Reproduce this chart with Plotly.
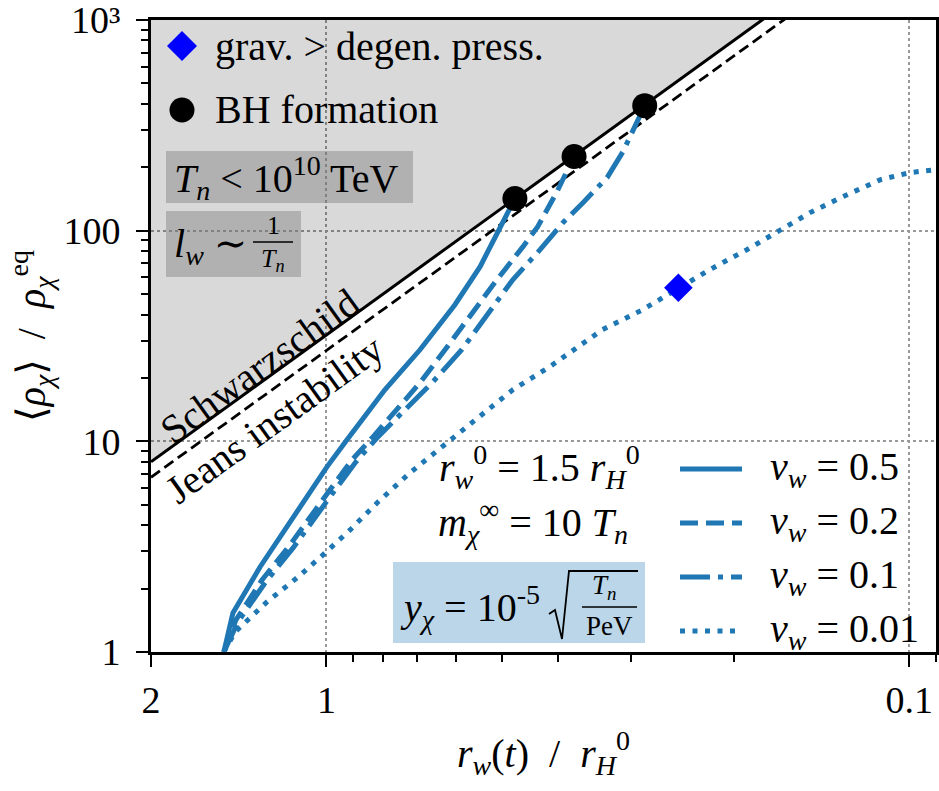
import plotly.graph_objects as go

# ---------------- data ----------------
r_v05 = [1.5, 1.447, 1.300, 1.169, 0.998, 0.922, 0.794, 0.691, 0.602, 0.545, 0.510, 0.484, 0.475]
rho_v05 = [1.0, 1.532, 2.533, 3.924, 7.566, 10.17, 17.57, 27.2, 44.5, 67.5, 95.7, 125.9, 142]

r_v02 = [1.5, 1.430, 1.290, 1.155, 0.986, 0.904, 0.832, 0.691, 0.626, 0.510, 0.460, 0.434, 0.403, 0.385, 0.376]
rho_v02 = [1.0, 1.419, 2.198, 3.223, 5.885, 8.17, 10.5, 18.97, 27.2, 58.5, 84.0, 104.5, 151.5, 195, 225]

r_v01 = [1.5, 1.419, 1.275, 1.141, 0.975, 0.890, 0.816, 0.659, 0.586, 0.479, 0.430, 0.393, 0.363, 0.330, 0.310, 0.293, 0.2844]
rho_v01 = [1.0, 1.388, 2.127, 3.119, 5.69, 7.99, 10.5, 18.97, 27.2, 58.5, 81.2, 109.1, 135.8, 178.6, 237, 326, 392]

r_v001 = [1.5, 1.435, 1.265, 1.124, 1.014, 0.911, 0.819, 0.719, 0.583, 0.479, 0.414, 0.398, 0.336,
          0.287, 0.249, 0.220, 0.190, 0.169, 0.148, 0.130, 0.112, 0.0998, 0.090]
rho_v001 = [1.0, 1.245, 1.728, 2.247, 2.889, 3.798, 5.10, 7.09, 11.34, 17.57, 22.6, 24.4, 33.9,
            42.1, 53.6, 65.3, 81.2, 98.9, 121.8, 145, 174.7, 188.6, 195]

bh_r = [0.475, 0.376, 0.2844]
bh_rho = [142, 225, 392]

grav_r = [0.249]
grav_rho = [53.6]

schw_r = [2.0, 0.1]
schw_rho = [8.0, 3200.0]
jeans_r = [2.0, 0.1]
jeans_rho = [6.75, 2700.0]

x_tickvals = [2, 1, 0.1]
x_ticktext = ["2", "1", "0.1"]
x_minor = [0.9, 0.8, 0.7, 0.6, 0.5, 0.4, 0.3, 0.2, 0.09]
y_tickvals = [1, 10, 100, 1000]
y_ticktext = ["1", "10", "100", "10³"]
y_minor = [m * d for d in (1, 10, 100) for m in range(2, 10)]

series_labels = ["0.5", "0.2", "0.1", "0.01"]

# ---------------- styling ----------------
FONT = "'Liberation Serif', 'Times New Roman', 'DejaVu Serif', serif"
FS = 38      # tick labels
FA = 40      # axis titles
FT = 40      # in-plot texts
BLUE = "#1f77b4"
DASHES = ["solid", "18px,8px", "30px,8px,5px,8px", "5px,7.5px"]
LW = 5

# plot-area pixel geometry (for placing annotations in paper coords)
L, R, T, B = 151, 936, 20, 652


def px(x):
    return (x - L) / (R - L)


def py(y):
    return (B - y) / (B - T)


fig = go.Figure()

# shaded region above the Schwarzschild line
fig.add_trace(go.Scatter(
    x=schw_r + [schw_r[-1], schw_r[0]], y=schw_rho + [1e4, 1e4],
    fill="toself", fillcolor="rgba(0,0,0,0.15)", line=dict(width=0),
    mode="lines", hoverinfo="skip"))

fig.add_trace(go.Scatter(x=schw_r, y=schw_rho, mode="lines",
                         line=dict(color="black", width=3)))
fig.add_trace(go.Scatter(x=jeans_r, y=jeans_rho, mode="lines",
                         line=dict(color="black", width=2.8, dash="11px,5.5px")))

for rr, yy, dsh in zip([r_v05, r_v02, r_v01, r_v001],
                       [rho_v05, rho_v02, rho_v01, rho_v001], DASHES):
    fig.add_trace(go.Scatter(x=rr, y=yy, mode="lines",
                             line=dict(color=BLUE, width=LW, dash=dsh)))

fig.add_trace(go.Scatter(x=bh_r, y=bh_rho, mode="markers",
                         marker=dict(color="black", size=25, symbol="circle")))
fig.add_trace(go.Scatter(x=grav_r, y=grav_rho, mode="markers",
                         marker=dict(color="blue", size=22, symbol="diamond")))

shapes = []
annotations = []


def ann(x, y, text, size=FT, xanchor="left", angle=0, **kw):
    annotations.append(dict(x=px(x), y=py(y), xref="paper", yref="paper", text=text,
                            showarrow=False, textangle=angle,
                            font=dict(family=FONT, size=size, color="black"),
                            xanchor=xanchor, yanchor="middle", **kw))


def rect(x0, y0, x1, y1, color):
    shapes.append(dict(type="rect", xref="paper", yref="paper",
                       x0=px(x0), x1=px(x1), y0=py(y1), y1=py(y0),
                       fillcolor=color, line=dict(width=0), layer="above"))


def seg(x0, y0, x1, y1, color="black", width=1.8, dash="solid"):
    shapes.append(dict(type="line", xref="paper", yref="paper",
                       x0=px(x0), x1=px(x1), y0=py(y0), y1=py(y1),
                       line=dict(color=color, width=width, dash=dash), layer="above"))


# top-left legend (icons + text)
shapes.append(dict(type="path", xref="paper", yref="paper", xsizemode="pixel", ysizemode="pixel",
                   xanchor=px(182), yanchor=py(46), path="M0,15 L15,0 L0,-15 L-15,0 Z",
                   fillcolor="blue", line=dict(width=0), layer="above"))
shapes.append(dict(type="circle", xref="paper", yref="paper", xsizemode="pixel", ysizemode="pixel",
                   xanchor=px(182), yanchor=py(110), x0=-12.5, x1=12.5, y0=-12.5, y1=12.5,
                   fillcolor="black", line=dict(width=0), layer="above"))
ann(213, 46, "grav. &gt; degen. press.")
ann(213, 110, "BH formation")

# grey parameter boxes
rect(166, 151, 413, 203, "rgba(128,128,128,0.45)")
rect(166, 211, 301, 277, "rgba(128,128,128,0.45)")
ann(172, 178, "<i>T</i><sub><i>n</i></sub> &lt; 10<sup>10</sup> TeV")
ann(172, 246, "<i>l</i><sub><i>w</i></sub> ∼")
ann(273, 226, "1", size=26, xanchor="center")
seg(253, 242, 293, 242, width=1.6)
ann(273, 260, "<i>T</i><sub><i>n</i></sub>", size=26, xanchor="center")

# rotated line labels
ann(259, 366, "Schwarzschild", angle=-35.8, xanchor="center")
ann(274, 419, "Jeans instability", angle=-35.8, xanchor="center")

# lower-left parameter text
ann(642, 467, "<i>r</i><sub><i>w</i></sub><sup>0</sup> = 1.5 <i>r</i><sub><i>H</i></sub><sup>0</sup>", xanchor="right")
ann(630, 522, "<i>m</i><sub><i>χ</i></sub><sup>∞</sup> = 10 <i>T</i><sub><i>n</i></sub>", xanchor="right")
rect(393, 562, 645, 643, "rgba(31,119,180,0.3)")
ann(398, 607, "<i>y</i><sub><i>χ</i></sub> = 10<sup>-5</sup>")
shapes.append(dict(type="path", xref="paper", yref="paper",
                   path="M{},{} L{},{} L{},{} L{},{} L{},{}".format(
                       px(549), py(614), px(555), py(610), px(562), py(639),
                       px(569), py(571), px(638), py(571)),
                   line=dict(color="black", width=1.8), layer="above"))
ann(604, 587, "<i>T</i><sub><i>n</i></sub>", size=27, xanchor="center")
seg(582, 607, 637, 607, width=1.6)
ann(609, 626, "PeV", size=27, xanchor="center")

# lower-right legend (line samples + labels)
leg_y = [469, 523, 577, 631]
for yy, dsh, lab in zip(leg_y, DASHES, series_labels):
    seg(680, yy, 742, yy, color=BLUE, width=LW, dash=dsh)
    ann(768, yy, "<i>v</i><sub><i>w</i></sub> = " + lab)

fig.update_layout(
    width=939, height=791,
    margin=dict(l=L, r=939 - R, t=T, b=791 - B, pad=0),
    paper_bgcolor="white", plot_bgcolor="white",
    showlegend=False,
    font=dict(family=FONT, size=FS, color="black"),
    shapes=shapes, annotations=annotations,
)

axis_common = dict(
    type="log", showline=True, linecolor="black", linewidth=3, mirror=True,
    ticks="outside", ticklen=12, tickwidth=2.2, tickcolor="black",
    showgrid=True, gridcolor="#999999", gridwidth=1.6, griddash="dot",
    zeroline=False, tickfont=dict(family=FONT, size=FS, color="black"),
    automargin=False, ticklabeloverflow="allow",
)

fig.update_xaxes(
    **axis_common,
    range=[0.30103, -1.0458],
    tickmode="array", tickvals=x_tickvals, ticktext=x_ticktext,
    minor=dict(tickmode="array", tickvals=x_minor, ticks="outside", ticklen=7,
               tickwidth=1.8, tickcolor="black", showgrid=False),
    title=dict(text="<i>r</i><sub><i>w</i></sub>(<i>t</i>)  /  <i>r</i><sub><i>H</i></sub><sup>0</sup>",
               font=dict(family=FONT, size=FA), standoff=20),
)
fig.update_yaxes(
    **axis_common,
    range=[0, 3],
    ticklabelstandoff=8,
    tickmode="array", tickvals=y_tickvals, ticktext=y_ticktext,
    minor=dict(tickmode="array", tickvals=y_minor, ticks="outside", ticklen=7,
               tickwidth=1.8, tickcolor="black", showgrid=False),
    title=dict(text="⟨<i>ρ</i><sub><i>χ</i></sub>⟩  /  <i>ρ</i><sub><i>χ</i></sub><sup>eq</sup>",
               font=dict(family=FONT, size=FA), standoff=6),
)

fig.write_html("out.html")
